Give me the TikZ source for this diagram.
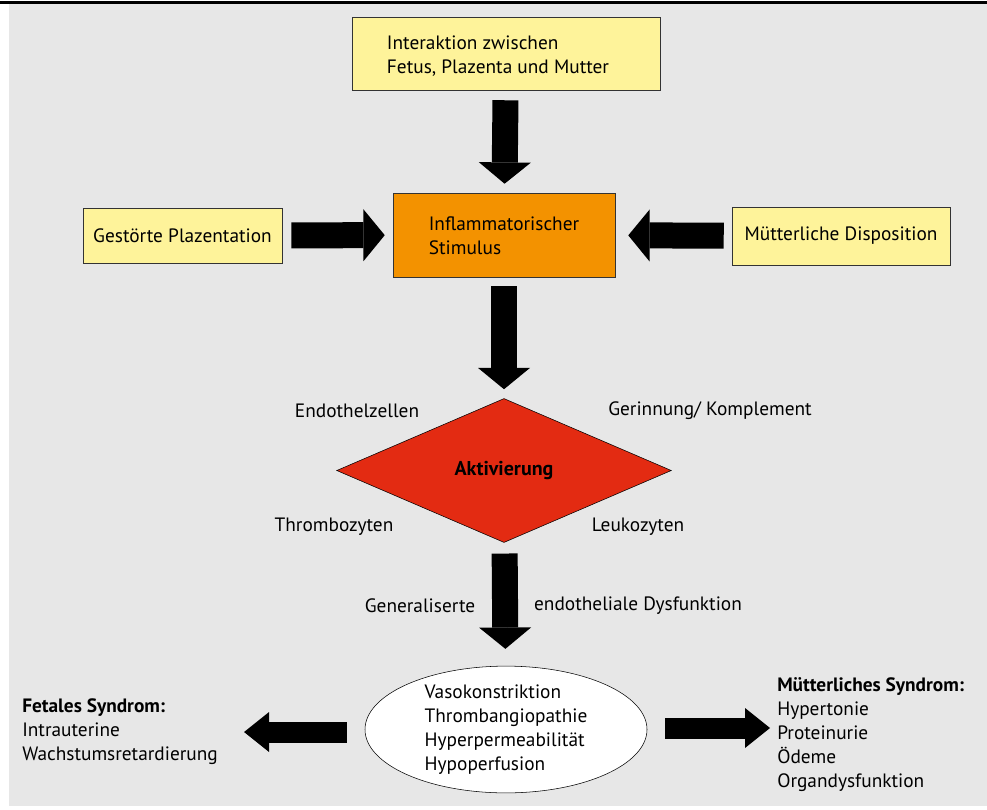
\documentclass[tikz,border=0pt]{standalone}
\usepackage{fontspec}
\setmainfont{PT Sans}
\usepackage{xcolor}
\usetikzlibrary{positioning,arrows.meta,shapes.geometric}
\definecolor{bg}{HTML}{E7E7E7}
\definecolor{ylw}{HTML}{FEF39A}
\definecolor{org}{HTML}{F39200}
\definecolor{rd}{HTML}{E32B12}
\tikzset{
  ybox/.style={draw=black!80, fill=ylw, align=left, font=\fontsize{14.5}{18}\selectfont, inner sep=0pt},
  obox/.style={ybox, fill=org},
  txt/.style={align=left, font=\fontsize{14.5}{18}\selectfont, inner sep=0pt},
  bigarrow/.style={line width=19.5pt, -{Triangle[length=16pt, width=39pt, line width=0pt]}},
  smallarrow/.style={line width=15.75pt, -{Triangle[length=18.75pt, width=30pt, line width=0pt]}},
}

\begin{document}
\begin{tikzpicture}[x=0.75pt, y=-0.75pt]
  \useasboundingbox (0,0) rectangle (987,809);
  \fill[bg] (9,4) rectangle (987,806);
  \draw[line width=2.5pt] (0,2.7) -- (987,2.7);

  % --- Ursachen
  \node[ybox, minimum width=231pt, minimum height=54.75pt] (inter) at (506,53.5)
    {\rule{0pt}{14pt}Interaktion zwischen\\Fetus, Plazenta und Mutter\hspace*{12pt}};
  \node[obox, minimum width=166.5pt, minimum height=63pt] (stim) at (504,235)
    {\rule{0pt}{12pt}Inflammatorischer\\Stimulus};
  \node[ybox, minimum width=149.25pt, minimum height=41.25pt] (plaz) at (182.5,235.5)
    {Gestörte Plazentation};
  \node[ybox, minimum width=163.5pt, minimum height=43.5pt] (disp) at (841,236)
    {Mütterliche Disposition};

  % --- Aktivierung
  \node[diamond, draw=black, fill=rd, inner sep=0pt, minimum width=251pt, minimum height=108pt,
        font=\fontsize{15}{18}\selectfont\bfseries] (akt) at (504,470.5) {Aktivierung};
  \node[txt] (endo) at (357,411) {Endothelzellen};
  \node[txt] (gerin) at (710,411) {Gerinnung/ Komplement};
  \node[txt] (throm) at (334,527) {Thrombozyten};
  \node[txt] (leuko) at (638,527) {Leukozyten};
  \node[txt] (gen) at (420,606) {Generaliserte};
  \node[txt] (dysf) at (638,606) {endotheliale Dysfunktion};

  % --- Folgen
  \node[ellipse, draw=black, fill=white, inner sep=0pt, minimum width=211.5pt, minimum height=93.75pt,
        align=left, font=\fontsize{14.5}{18}\selectfont] (ell) at (506,729.5)
    {Vasokonstriktion\\Thrombangiopathie\\Hyperpermeabilität\\Hypoperfusion};
  \node[txt, anchor=west] (fetal) at (22,732)
    {\textbf{Fetales Syndrom:}\\Intrauterine\\Wachstumsretardierung};
  \node[txt, anchor=west] (mutter) at (777,735)
    {\textbf{Mütterliches Syndrom:}\\Hypertonie\\Proteinurie\\Ödeme\\Organdysfunktion};
  \coordinate (fl) at (0,732);
  \coordinate (ml) at (0,728);

  % --- Pfeile
  \draw[bigarrow, shorten <=7.5pt, shorten >=6.75pt] (inter) -- (stim);
  \draw[bigarrow, shorten <=6.75pt, shorten >=6pt] (plaz) -- (stim);
  \draw[bigarrow, shorten <=6pt, shorten >=9.75pt] (disp) -- (stim);
  \draw[bigarrow, shorten <=6.75pt, shorten >=6.75pt] (stim) -- (akt);
  \draw[bigarrow, shorten <=8.25pt, shorten >=12.75pt] (akt) -- (ell);
  \draw[smallarrow, shorten <=13.5pt, shorten >=19.5pt] (ell.west |- fl) -- (fetal.east |- fl);
  \draw[smallarrow, shorten <=13.5pt, shorten >=5.25pt] (ell.east |- ml) -- (mutter.west |- ml);
\end{tikzpicture}
\end{document}
